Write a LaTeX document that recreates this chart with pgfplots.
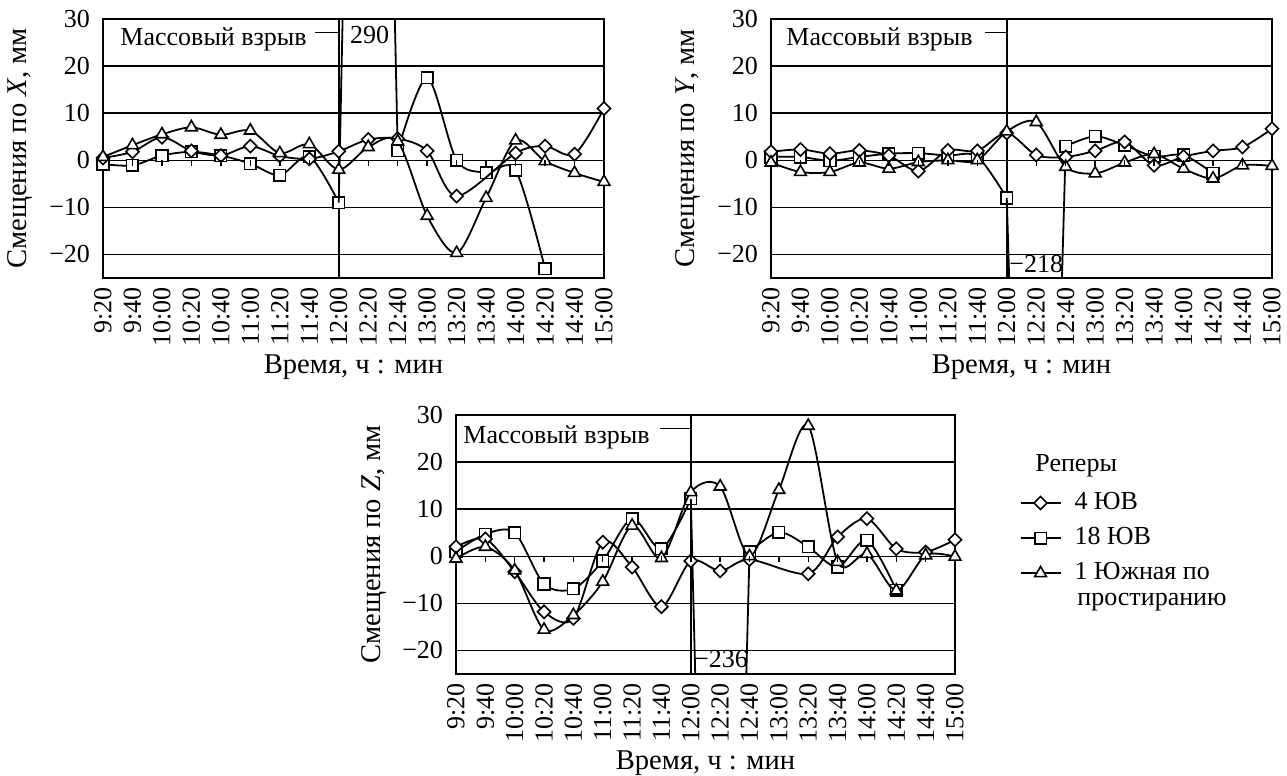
\documentclass[border=0pt]{standalone}
\usepackage{fontspec}
\setmainfont{Liberation Serif}
\usepackage{pgfplots}
\usepackage{pgfplotstable}
\pgfplotsset{compat=1.18}

% displacement per benchmark: d = 4 ЮВ, s = 18 ЮВ, t = 1 Южная
\pgfplotstableread{
i  d     s     t
0  0.5   -0.8  0.7
1  1.8   -1.1  3.2
2  4.9   1.0   5.5
3  2.0   1.8   7.0
4  1.0   1.0   5.4
5  3.0   -0.7  6.3
6  0.9   -3.2  1.5
7  0.3   0.8   3.4
8  1.9   -9.0  -2.0
9  4.4   290   2.8
10 4.6   2.0   4.0
11 2.0   17.5  -11.8
12 -7.6  0.0   -19.7
13 nan   -2.6  -8.0
14 1.5   -2.1  4.2
15 3.0   -23.0 -0.2
16 1.3   nan   -2.7
17 11.0  nan   -4.6
}\dataX

\pgfplotstableread{
i  d     s     t
0  1.8   0.7   -0.5
1  2.3   0.7   -2.5
2  1.4   -0.1  -2.5
3  2.1   0.7   -0.5
4  1.0   1.4   -1.8
5  -2.3  1.5   -0.4
6  2.1   1.0   0.0
7  2.0   0.8   0.0
8  5.8   -8.0  6.1
9  1.1   -218  8.1
10 0.7   3.0   -1.4
11 2.0   5.1   -2.8
12 3.9   3.2   -0.5
13 -1.1  0.8   1.3
14 0.8   1.1   -1.8
15 2.0   -2.8  -3.9
16 2.8   nan   -1.1
17 6.7   nan   -1.2
}\dataY

\pgfplotstableread{
i  d     s     t
0  2.0   1.0   -0.5
1  3.7   4.7   2.0
2  -3.3  5.0   -3.0
3  -11.8 -5.9  -15.6
4  -13.2 -6.9  -12.5
5  3.0   -1.0  -5.4
6  -2.3  8.0   6.5
7  -10.7 1.6   -0.4
8  -1.0  12.2  13.6
9  -3.1  -236  14.8
10 -0.7  0.9   0.0
11 nan   5.1   14.1
12 -3.7  2.0   27.7
13 4.1   -2.3  -1.2
14 8.0   3.4   0.5
15 1.6   -7.2  -7.3
16 0.9   nan   0.2
17 3.5   nan   -0.1
}\dataZ

\pgfplotsset{
  panel/.style={
    scale only axis, width=250.5pt, height=129.5pt,
    anchor=south west,
    xmin=0, xmax=17, ymin=-25, ymax=30,
    xtick={0,...,17},
    xticklabels={9:20,9:40,10:00,10:20,10:40,11:00,11:20,11:40,12:00,12:20,12:40,13:00,13:20,13:40,14:00,14:20,14:40,15:00},
    ytick={-20,-10,0,10,20,30},
    yticklabels={−20,−10,0,10,20,30},
    ymajorgrids,
    major grid style={black, line width=0.7pt},
    major tick length=0pt,
    axis line style={line width=0.7pt},
    xticklabel style={rotate=90, anchor=east},
    yticklabel style={xshift=-2pt},
    xlabel={Время, ч : мин},
    xlabel style={at={(axis description cs:0.5,-0.345)}, anchor=center,
      font=\fontsize{14.3}{16}\selectfont},
    ylabel style={at={(axis description cs:-0.165,0.5)}, anchor=center,
      font=\fontsize{14.3}{16}\selectfont},
    clip mode=individual,
    font=\fontsize{13}{15}\selectfont,
    legend image code/.code={\draw[mark repeat=2, mark phase=2, #1]
      plot coordinates {(0cm,0cm) (0.35cm,0cm) (0.7cm,0cm)};
      \path (0.86cm,0cm);},
  },
  ser/.style={black, line width=0.9pt, smooth},
  sd/.style={ser, mark=square*, mark size=2.3pt,
    mark options={solid, rotate=45, fill=white, line width=0.8pt}},
  ss/.style={ser, mark=square*, mark size=2.9pt,
    mark options={solid, fill=white, line width=0.8pt}},
  st/.style={ser, mark=triangle*, mark size=3.4pt,
    mark options={solid, fill=white, line width=0.8pt}},
  spike/.style={black, line width=0.9pt, sharp plot, no marks, forget plot},
  blast/.style={black, line width=0.8pt, sharp plot, no marks, forget plot},
}

\begin{document}
\fontsize{13}{15}\selectfont
\begin{tikzpicture}
\useasboundingbox (0,0) rectangle (643.5pt,388pt);

% ---- X ----
\begin{axis}[panel, at={(51.5pt,249pt)}, ylabel={Смещения по \textit{X}, мм}]
\addplot[blast] coordinates {(8,-25) (8,30)};
\addplot[ss, restrict x to domain=0:8] table[x=i,y=s]{\dataX};
\addplot[spike, restrict x to domain=8:10] table[x=i,y=s]{\dataX};
\addplot[ss, restrict x to domain=10:17] table[x=i,y=s]{\dataX};
\addplot[sd] table[x=i,y=d]{\dataX};
\addplot[st] table[x=i,y=t]{\dataX};
\node[anchor=base west, inner sep=0pt] at (axis cs:0.58,24.3) {Массовый взрыв};
\draw[line width=0.8pt] (axis cs:7.19,27.1) -- (axis cs:8,27.1);
\node[anchor=base, inner sep=0pt] at (axis cs:9.05,24.7) {290};
\pgfplotsinvokeforeach{1,...,16}{\draw[line width=0.7pt] (axis cs:#1,0) -- ([yshift=-3pt]axis cs:#1,0);}
\end{axis}

% ---- Y ----
\begin{axis}[panel, at={(385.5pt,249pt)}, ylabel={Смещения по \textit{Y}, мм}]
\addplot[blast] coordinates {(8,-25) (8,30)};
\addplot[ss, restrict x to domain=0:8] table[x=i,y=s]{\dataY};
\addplot[spike, restrict x to domain=8:10] table[x=i,y=s]{\dataY};
\addplot[ss, restrict x to domain=10:17] table[x=i,y=s]{\dataY};
\addplot[sd] table[x=i,y=d]{\dataY};
\addplot[st] table[x=i,y=t]{\dataY};
\node[anchor=base west, inner sep=0pt] at (axis cs:0.51,24.3) {Массовый взрыв};
\draw[line width=0.8pt] (axis cs:7.25,27.1) -- (axis cs:8,27.1);
\node[anchor=base, inner sep=0pt] at (axis cs:9.0,-23.9) {−218};
\pgfplotsinvokeforeach{1,...,16}{\draw[line width=0.7pt] (axis cs:#1,0) -- ([yshift=-3pt]axis cs:#1,0);}
\end{axis}

% ---- Z ----
\begin{axis}[panel, at={(228pt,51pt)}, width=249.5pt,
  ylabel={Смещения по \textit{Z}, мм},
  legend cell align=left,
  legend style={at={(axis description cs:1.129,0.718)}, anchor=north west,
    draw=none, fill=none, inner sep=0pt, row sep=3pt,
    font=\fontsize{13}{15}\selectfont}]
\addplot[blast] coordinates {(8,-25) (8,30)};
\addplot[ss, forget plot, restrict x to domain=0:8] table[x=i,y=s]{\dataZ};
\addplot[spike, restrict x to domain=8:10] table[x=i,y=s]{\dataZ};
\addplot[ss, forget plot, restrict x to domain=10:17] table[x=i,y=s]{\dataZ};
\addplot[sd, forget plot] table[x=i,y=d]{\dataZ};
\addplot[st, forget plot] table[x=i,y=t]{\dataZ};
\addlegendimage{sd}
\addlegendentry{4 ЮВ}
\addlegendimage{ss}
\addlegendentry{18 ЮВ}
\addlegendimage{st}
\addlegendentry{1 Южная по}
\node[anchor=base west, inner sep=0pt] at (axis cs:0.24,24.0) {Массовый взрыв};
\draw[line width=0.8pt] (axis cs:6.95,27.1) -- (axis cs:8,27.1);
\node[anchor=base, inner sep=0pt] at (axis cs:9.03,-23.7) {−236};
\pgfplotsinvokeforeach{1,...,16}{\draw[line width=0.7pt] (axis cs:#1,0) -- ([yshift=-3pt]axis cs:#1,0);}
\end{axis}

\node[anchor=base west, inner sep=0pt] at (517.5pt,152.2pt) {Реперы};
\node[anchor=base west, inner sep=0pt] at (538.5pt,85pt) {простиранию};
\end{tikzpicture}
\end{document}
